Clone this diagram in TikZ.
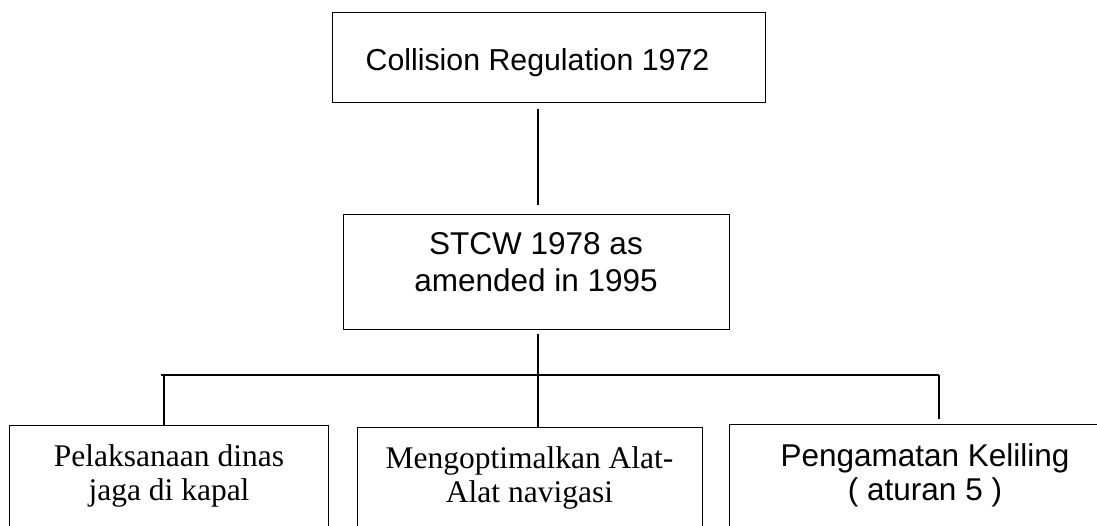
\documentclass[tikz,border=0pt]{standalone}
\usepackage{fontspec}
\setmainfont{Liberation Serif}
\newfontfamily\arialfont{Liberation Sans}
\usetikzlibrary{calc}
\tikzset{
  box/.style={draw=black, line width=0.9pt, rectangle, inner sep=0pt, anchor=north west},
  conn/.style={draw=black, line width=1.4pt},
  sanstxt/.style={anchor=base, inner sep=0pt, font=\arialfont\fontsize{31.5}{36}\selectfont},
  seriftxt/.style={anchor=base, inner sep=0pt, font=\fontsize{31.5}{34}\selectfont}
}
\begin{document}
\begin{tikzpicture}[x=1pt,y=-1pt]
\useasboundingbox (0,0) rectangle (1097,526);
\clip (0,0) rectangle (1097,526);
\fill[white] (0,0) rectangle (1097,526);
% boxes
\node[box, minimum width=433pt, minimum height=90pt] (top) at (332,12) {};
\node[box, minimum width=386pt, minimum height=115pt] (mid) at (343,214) {};
\node[box, minimum width=319pt, minimum height=150pt] (b1) at (9,425) {};
\node[box, minimum width=345pt, minimum height=150pt] (b2) at (357,427) {};
\node[box, minimum width=400pt, minimum height=150pt] (b3) at (729,424) {};
% texts
\node[sanstxt, font=\arialfont\fontsize{30.3}{36}\selectfont] (ttop) at (537.5,71) {Collision Regulation 1972};
\node[sanstxt] (tmid1) at (536,255) {STCW 1978 as};
\node[sanstxt] (tmid2) at (536,292) {amended in 1995};
\node[seriftxt] (tb1a) at (169,466) {Pelaksanaan dinas};
\node[seriftxt] (tb1b) at (169,500) {jaga di kapal};
\node[seriftxt] (tb2a) at (529.5,468) {Mengoptimalkan Alat-};
\node[seriftxt] (tb2b) at (529.5,502) {Alat navigasi};
\node[sanstxt] (tb3a) at (925,466) {Pengamatan Keliling};
\node[sanstxt] (tb3b) at (925,500) {( aturan 5 )};
% junction coordinates
\coordinate (j) at (538,375);
\coordinate (jl) at (164,375);
\coordinate (jr) at (939,375);
\coordinate (hl) at (161,375);
% connectors
\draw[conn] ($(top.south -| j)+(0,6)$) -- ($(mid.north -| j)+(0,-9)$);
\draw[conn] ($(mid.south -| j)+(0,4)$) -- (b2.north -| j);
\draw[conn] (hl) -- (jr);
\draw[conn] (jl) -- (b1.north -| jl);
\draw[conn] (jr) -- ($(b3.north -| jr)+(0,-5)$);
\end{tikzpicture}
\end{document}
